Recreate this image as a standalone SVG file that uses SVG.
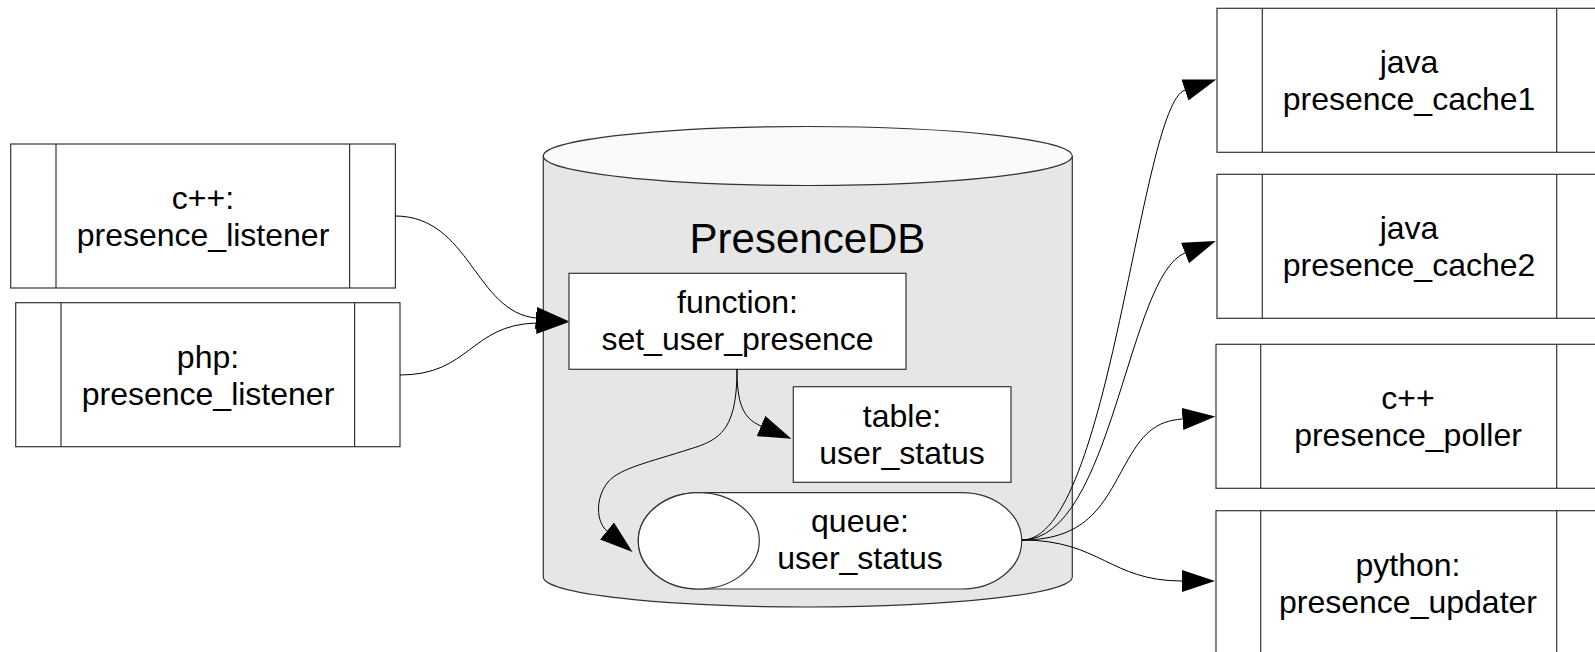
<svg xmlns="http://www.w3.org/2000/svg" width="1595" height="652" viewBox="0 0 1595 652">
<style>
text{font-family:"Liberation Sans",Arial,sans-serif;font-size:32px;fill:#000;text-anchor:middle}
.box{fill:#fff;stroke:#333;stroke-width:1.2}
.ln{fill:none;stroke:#333;stroke-width:1.2}
.edge{fill:none;stroke:#000;stroke-width:1}
.title{font-size:42px}
</style>
<defs>
<marker id="arr" markerUnits="userSpaceOnUse" markerWidth="34" markerHeight="22" viewBox="0 0 34 22" refX="0" refY="11" orient="auto">
<path d="M0,0 L33,11 L0,22 Z" fill="#000"/>
</marker>
</defs>
<rect width="1595" height="652" fill="#fff"/>

<g id="cpp_listener">
<rect class="box" x="10.7" y="144" width="384.7" height="144"/>
<line class="ln" x1="56" y1="144" x2="56" y2="288"/>
<line class="ln" x1="349.6" y1="144" x2="349.6" y2="288"/>
<text x="203" y="209">c++:</text>
<text x="203" y="246">presence_listener</text>
</g>

<g id="php_listener">
<rect class="box" x="15.7" y="302.7" width="384.3" height="144"/>
<line class="ln" x1="61" y1="302.7" x2="61" y2="446.7"/>
<line class="ln" x1="354.6" y1="302.7" x2="354.6" y2="446.7"/>
<text x="208" y="367.7">php:</text>
<text x="208" y="404.7">presence_listener</text>
</g>

<g id="presencedb">
<path d="M543.3,156 L543.3,577 A264.5,30 0 0 0 1072.3,577 L1072.3,156 Z" fill="#e6e6e6" stroke="#333" stroke-width="1.2"/>
<ellipse cx="807.8" cy="156" rx="264.5" ry="29.5" fill="#fafafa" stroke="#333" stroke-width="1.2"/>
<text class="title" x="807.5" y="253">PresenceDB</text>
</g>

<g id="set_user_presence">
<rect class="box" x="569" y="273.3" width="337" height="96"/>
<text x="737.5" y="312.5">function:</text>
<text x="737.5" y="349.5">set_user_presence</text>
</g>

<g id="table_user_status">
<rect class="box" x="793.3" y="386.7" width="217.7" height="95.6"/>
<text x="902" y="427">table:</text>
<text x="902" y="464">user_status</text>
</g>

<g id="queue_user_status">
<rect class="box" x="638.3" y="492.7" width="383.4" height="96.3" rx="60" ry="48"/>
<ellipse class="box" cx="698.8" cy="540.8" rx="60.5" ry="48.2"/>
<text x="860" y="532">queue:</text>
<text x="860" y="569">user_status</text>
</g>

<g id="presence_cache1">
<rect class="box" x="1217" y="8.3" width="384" height="144"/>
<line class="ln" x1="1262.3" y1="8.3" x2="1262.3" y2="152.3"/>
<line class="ln" x1="1556.7" y1="8.3" x2="1556.7" y2="152.3"/>
<text x="1409" y="73.3">java</text>
<text x="1409" y="110.3">presence_cache1</text>
</g>

<g id="presence_cache2">
<rect class="box" x="1217" y="174.3" width="384" height="144"/>
<line class="ln" x1="1262.3" y1="174.3" x2="1262.3" y2="318.3"/>
<line class="ln" x1="1556.7" y1="174.3" x2="1556.7" y2="318.3"/>
<text x="1409" y="239.3">java</text>
<text x="1409" y="276.3">presence_cache2</text>
</g>

<g id="presence_poller">
<rect class="box" x="1216" y="344.3" width="384" height="144"/>
<line class="ln" x1="1260.7" y1="344.3" x2="1260.7" y2="488.3"/>
<line class="ln" x1="1556.7" y1="344.3" x2="1556.7" y2="488.3"/>
<text x="1408" y="409.3">c++</text>
<text x="1408" y="446.3">presence_poller</text>
</g>

<g id="presence_updater">
<rect class="box" x="1216" y="510.7" width="384" height="144"/>
<line class="ln" x1="1260.7" y1="510.7" x2="1260.7" y2="654.7"/>
<line class="ln" x1="1556.7" y1="510.7" x2="1556.7" y2="654.7"/>
<text x="1408" y="575.7">python:</text>
<text x="1408" y="612.7">presence_updater</text>
</g>

<g id="connectors">
<path class="edge" marker-end="url(#arr)" d="M395,216 C470,216 475,312 536,318"/>
<path class="edge" marker-end="url(#arr)" d="M400,375 C470,375 470,325 536,323"/>
<path class="edge" marker-end="url(#arr)" d="M737,369 C737,402 742,418 761,426"/>
<path class="edge" marker-end="url(#arr)" d="M737,369 C737,430 720,440 690,449 C650,462 620,468 608,482 C595,498 596,522 607,531"/>
<path class="edge" marker-end="url(#arr)" d="M1022,540 C1110,540 1140,105 1185,90"/>
<path class="edge" marker-end="url(#arr)" d="M1022,540 C1112,540 1128,275 1185,253"/>
<path class="edge" marker-end="url(#arr)" d="M1022,540 C1090,540 1105,500 1125,465 C1142,434 1155,421 1182.5,419"/>
<path class="edge" marker-end="url(#arr)" d="M1022,540 C1100,540 1110,581 1182,581"/>
</g>
</svg>
